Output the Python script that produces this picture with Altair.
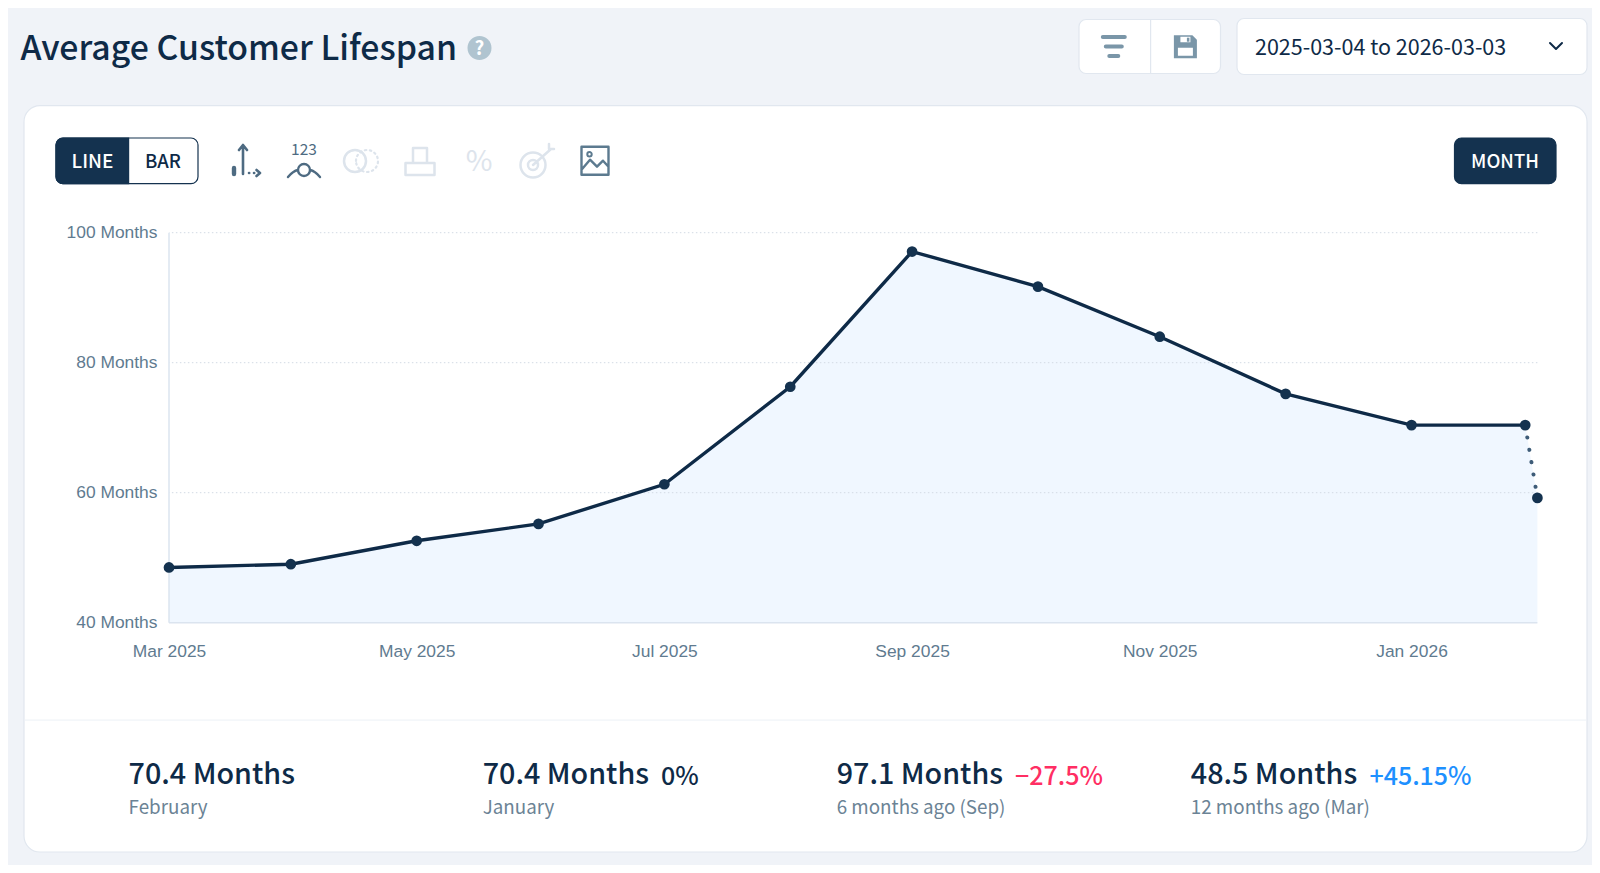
import altair as alt

# ---- data ----
dates = ["2025-03-04", "2025-04-03", "2025-05-04", "2025-06-03", "2025-07-04", "2025-08-04",
         "2025-09-03", "2025-10-04", "2025-11-03", "2025-12-04", "2026-01-04", "2026-02-01", "2026-02-04"]
values = [48.5, 49.0, 52.6, 55.2, 61.3, 76.3, 97.1, 91.7, 84.0, 75.2, 70.4, 70.4, 59.2]
y_ticks = [40, 60, 80, 100]
x_ticks = ["2025-03-04", "2025-05-04", "2025-07-04", "2025-09-03", "2025-11-03", "2026-01-04"]
title_text = "Average Customer Lifespan"
date_range = "2025-03-04 to 2026-03-03"
stat_values = ["70.4 Months", "70.4 Months", "97.1 Months", "48.5 Months"]
stat_labels = ["February", "January", "6 months ago (Sep)", "12 months ago (Mar)"]
stat_changes = ["", "0%", "\u221227.5%", "+45.15%"]

# ---- styling ----
X0, Y0 = 169.0, 232.7          # page position of the plot's top-left
PW, PH = 1368.4, 390
BG = "#f0f3f8"
DARK = "#14324f"
INK = "#0e2a47"
MUTED = "#5f7b90"
SUB = "#6b8395"
FAINT = "#dde4ec"
ICON = "#4e6b82"
SOFT = "#7a96a8"
BORDER = "#e1e7ef"
UI_FONT = "Noto Sans CJK JP"
AXIS_FONT = "Liberation Sans"

rows = [{"date": d, "value": v} for d, v in zip(dates, values)]
one = alt.Data(values=[{"k": 0}])


def box(x1, y1, x2, y2, fill, stroke=None, r=0, **kw):
    args = dict(fill=fill, cornerRadius=r, **kw)
    if stroke:
        args.update(stroke=stroke, strokeWidth=1.2)
    return alt.Chart(one).mark_rect(**args).encode(
        x=alt.value(x1 - X0), x2=alt.value(x2 - X0), y=alt.value(y1 - Y0), y2=alt.value(y2 - Y0))


def label(text, x, y, size, color, weight=400, align="left", font=UI_FONT):
    return alt.Chart(alt.Data(values=[{"t": text}])).mark_text(
        font=font, fontSize=size, color=color, fontWeight=weight, align=align, baseline="alphabetic"
    ).encode(x=alt.value(x - X0), y=alt.value(y - Y0), text="t:N")


def icon(path, x, y, color, width=2.2, fill=None, dash=None):
    args = dict(shape=path, size=4, opacity=1, strokeCap="round", strokeJoin="round")
    if fill:
        args.update(filled=True, fill=fill, strokeWidth=0)
    else:
        args.update(filled=False, stroke=color, strokeWidth=width, fill="transparent")
    if dash:
        args.update(strokeDash=dash)
    return alt.Chart(one).mark_point(**args).encode(x=alt.value(x - X0), y=alt.value(y - Y0))


def circle(cx, cy, r):
    return f"M{cx - r},{cy} A{r},{r} 0 1,1 {cx + r},{cy} A{r},{r} 0 1,1 {cx - r},{cy} Z"


ui = [
    # card
    box(24, 105.7, 1587, 852, "#ffffff", BORDER, 16),
    box(25, 719.5, 1586, 720.7, "#f0f4f8"),
    # header
    label(title_text, 20.5, 60, 33.8, INK, 500),
    icon(circle(0, 0, 12), 479.5, 48, "#b0c4d0", fill="#b0c4d0"),
    label("?", 479.5, 55, 19, "#ffffff", 700, "center"),
    box(1079, 19.5, 1220.5, 73.5, "#ffffff", BORDER, 7),
    box(1150, 20, 1151.2, 73, BORDER),
    icon("M-11,-9.5 H11 M-8,0 H8 M-4.5,9.5 H4.5", 1113.8, 46.5, SOFT, 4),
    icon("M-11.5,-11.5 H7 L11.5,-7 V11.5 H-11.5 Z", 1185.4, 46.7, SOFT, fill=SOFT),
    icon("M-7.5,1 H7.5 V9 H-7.5 Z M-5,-10 H5 V-4.5 H-5 Z", 1185.4, 46.7, "#ffffff", fill="#ffffff"),
    icon("M1.5,-9 H4 V-5 H1.5 Z", 1185.4, 46.7, SOFT, fill=SOFT),
    box(1237, 18.5, 1587, 74.5, "#ffffff", BORDER, 7),
    label(date_range, 1255, 55, 21.5, INK, 400),
    icon("M-6,-3 L0,3 L6,-3", 1556, 46, INK, 2),
    # toolbar
    box(56, 138, 198, 183.7, "#ffffff", DARK, 7),
    box(56, 138, 128.6, 183.7, DARK, DARK, 0, cornerRadiusTopLeft=7, cornerRadiusBottomLeft=7),
    label("LINE", 92.5, 168, 19, "#ffffff", 500, "center"),
    label("BAR", 163, 168, 18.5, INK, 500, "center"),
    box(1454.5, 138, 1556, 183.7, DARK, DARK, 7),
    label("MONTH", 1505, 168, 18.5, "#ffffff", 500, "center"),
    # icons
    icon("M-2,14 V-15 M-6,-10 L-2,-15 L2,-10 M4,13 h.2 M9,13 h.2 M11.5,10 L15,13 L11.5,16", 245, 160, ICON, 2.6),
    icon("M-11,8 V14", 245, 160, ICON, 4.4),
    label("123", 304, 155, 15.5, ICON, 400, "center"),
    icon(circle(0, 10, 6) + " M-16,17 Q-11,11 -6,10 M16,17 Q11,11 6,10", 304, 160, ICON, 2.4),
    icon(circle(-6, 0, 11), 361, 161, FAINT, 2.5),
    icon(circle(6, 0, 11), 361, 161, FAINT, 2.2, dash=[1.5, 3.5]),
    icon("M-7,2 V-13 H7 V2 M-14.5,2 H14.5 V14 H-14.5 Z", 420, 161, FAINT, 2.5),
    label("%", 479, 171, 29, FAINT, 400, "center"),
    icon(circle(-4, 4, 12.5) + circle(-4, 4, 5) + " M-4,4 L14,-12 M12,-17 V-12 H17", 537, 161, FAINT, 2.5),
    icon("M-13.5,-14 H13.5 V14 H-13.5 Z M-13.5,9 L-5,-1 L2,6 L8,0 L13.5,6", 595, 160.7, "#5c7a8f", 2.4),
    icon(circle(-5.5, -6.5, 2.2), 595, 160.7, "#5c7a8f", 2),
]

# stats row
for sx, val, sub, chg, cx, col in zip(
    [128.6, 482.7, 836.7, 1190.8], stat_values, stat_labels, stat_changes,
    [0, 661, 1015, 1369.4], [INK, INK, "#ff2e63", "#1e90ff"],
):
    ui.append(label(val, sx, 784, 28.7, INK, 500))
    ui.append(label(sub, sx, 814, 18.8, SUB, 400))
    if chg:
        ui.append(label(chg, cx, 785, 25, col, 500))

# ---- chart ----
x_enc = alt.X(
    "date:T",
    scale=alt.Scale(type="utc", domain=[dates[0], dates[-1]]),
    axis=alt.Axis(values=x_ticks, labelExpr="utcFormat(datum.value, '%b %Y')", title=None, grid=False, ticks=False,
                  domain=False, labelFont=AXIS_FONT, labelFontSize=17.4, labelFlush=False,
                  labelColor=MUTED, labelPadding=20, labelOverlap=False, zindex=1),
)
y_enc = alt.Y(
    "value:Q",
    scale=alt.Scale(domain=[y_ticks[0], y_ticks[-1]], nice=False, zero=False),
    axis=alt.Axis(values=y_ticks, labelExpr="datum.value + ' Months'", title=None, grid=False, ticks=False,
                  domain=False, labelFont=AXIS_FONT, labelFontSize=17.4,
                  labelColor=MUTED, labelPadding=12, zindex=1),
)
series = alt.Data(values=rows)
area = alt.Chart(series).mark_area(color="#f0f7ff", opacity=1).encode(x=x_enc, y=y_enc, y2=alt.datum(y_ticks[0]))
grid = alt.Chart(alt.Data(values=[{"value": v} for v in y_ticks[1:]])).mark_rule(
    color="#d3dbe4", strokeDash=[1.5, 2.5], strokeWidth=1).encode(y=y_enc)
base_x = alt.Chart(alt.Data(values=[{"value": y_ticks[0]}])).mark_rule(
    color="#dbe4ef", strokeWidth=1.5).encode(y=y_enc)
base_y = alt.Chart(alt.Data(values=[{"date": dates[0]}])).mark_rule(
    color="#dbe4ef", strokeWidth=1.5).encode(x=x_enc)
solid = alt.Chart(alt.Data(values=rows[:-1])).mark_line(color=INK, strokeWidth=3.4).encode(x=x_enc, y=y_enc)
dots = alt.Chart(alt.Data(values=rows[-2:])).mark_line(
    color="#3e5c78", strokeWidth=4, strokeDash=[0.1, 12.4], strokeCap="round").encode(x=x_enc, y=y_enc)
points = alt.Chart(series).mark_circle(color=DARK, size=115, opacity=1).encode(x=x_enc, y=y_enc)

total_w, total_h = 1584, 857
left, top = X0 - 8, Y0 - 8
chart = alt.layer(*ui, area, grid, base_x, base_y, solid, dots, points).properties(
    width=PW, height=PH,
    background=BG,
    autosize=alt.AutoSizeParams(type="none"),
    padding={"left": left, "top": top, "right": total_w - left - PW, "bottom": total_h - top - PH},
).configure_view(stroke=None)

chart.save("out.html", embed_options={"renderer": "svg", "actions": False})
